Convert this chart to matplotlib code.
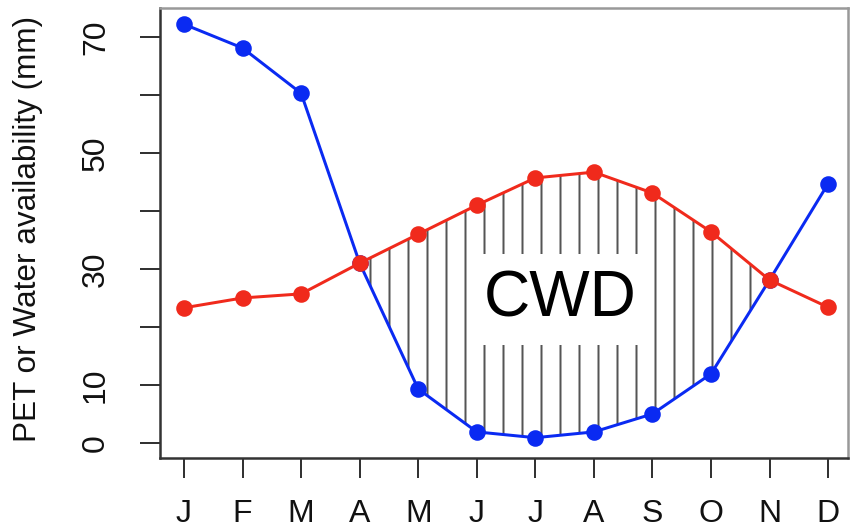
import matplotlib
matplotlib.use('Agg')
import matplotlib.pyplot as plt
import numpy as np

# monthly values
months = ['J', 'F', 'M', 'A', 'M', 'J', 'J', 'A', 'S', 'O', 'N', 'D']
water = [72.2, 68.1, 60.3, 31.0, 9.3, 1.9, 0.9, 1.9, 5.0, 11.9, 28.1, 44.7]
pet = [23.3, 25.0, 25.7, 31.0, 36.0, 41.0, 45.7, 46.7, 43.1, 36.4, 28.1, 23.4]
yticks = [0, 10, 20, 30, 40, 50, 60, 70]
ylabels = ['0', '10', '', '30', '', '50', '', '70']

DPI = 114

def pt(px):
    # pixels -> points at our dpi
    return px * 72 / DPI

plt.rcParams['font.family'] = ['Liberation Sans', 'DejaVu Sans']
plt.rcParams['hatch.linewidth'] = pt(2)

blue = '#0a2af2'
red = '#f02a1c'

fig = plt.figure(figsize=(850 / DPI, 530 / DPI), dpi=DPI)
ax = fig.add_axes([160 / 850, 72 / 530, 688 / 850, 450 / 530])

x = np.arange(1, 13)
pet_a = np.array(pet)
water_a = np.array(water)

# hatched deficit area (CWD)
ax.fill_between(x, pet_a, water_a, where=pet_a >= water_a, interpolate=True,
                facecolor='none', edgecolor='#555555', hatch='|', linewidth=0)

ax.plot(x, water, color=blue, lw=pt(3), marker='o', ms=pt(15), zorder=3)
ax.plot(x, pet, color=red, lw=pt(3), marker='o', ms=pt(15), zorder=3)

ax.text(7.42, 24.7, 'CWD', fontsize=pt(64), ha='center', va='center',
        bbox=dict(boxstyle='square,pad=0.24', fc='white', ec='none'), zorder=2)

ax.set_xlim(0.59, 12.34)
ax.set_ylim(-2.6, 75)
ax.set_xticks(x)
ax.set_xticklabels(months)
ax.set_yticks(yticks)
ax.set_yticklabels(ylabels, rotation=90, va='center')

ax.tick_params(axis='both', length=pt(20), width=pt(2), color='#333333',
               labelsize=pt(32), labelcolor='#111111')
ax.tick_params(axis='x', pad=pt(21))
ax.tick_params(axis='y', pad=pt(29))

for side in ['left', 'bottom']:
    ax.spines[side].set_color('#333333')
    ax.spines[side].set_linewidth(pt(2.5))
for side in ['top', 'right']:
    ax.spines[side].set_color('#999999')
    ax.spines[side].set_linewidth(pt(2.5))

ax.set_ylabel('PET or Water availability (mm)', fontsize=pt(31.5), color='#111111')
ax.yaxis.set_label_coords(-117 / 688, 0.51)

fig.savefig('out.png', dpi=DPI)
